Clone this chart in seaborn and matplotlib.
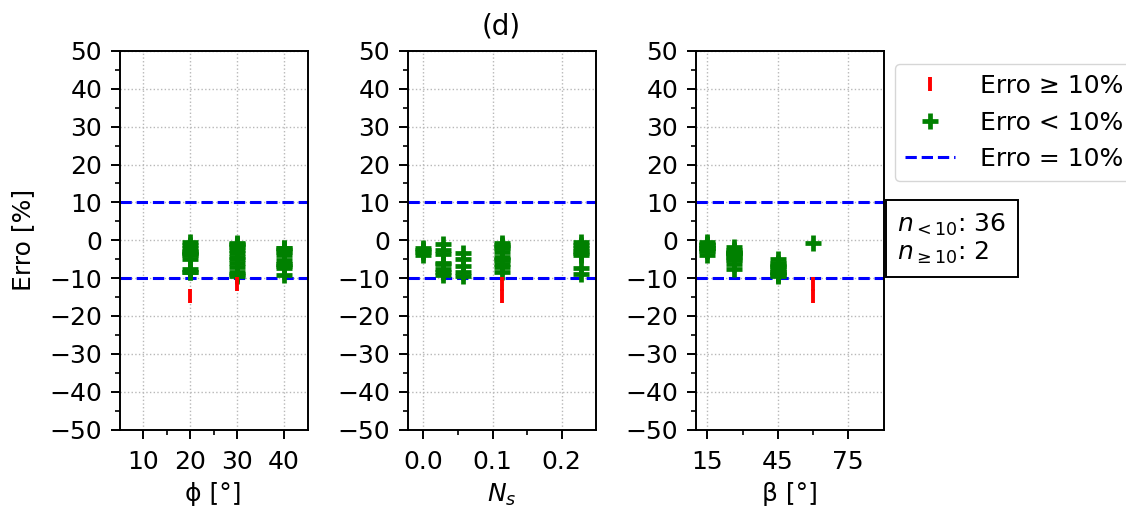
import numpy as np
import pandas as pd
import matplotlib
matplotlib.use("Agg")
import matplotlib.pyplot as plt
import seaborn as sns
from matplotlib.lines import Line2D
from matplotlib.ticker import MultipleLocator, FixedLocator

# ---- data (one entry per case) ----
phi = [20, 30, 40, 20,
       30, 40, 20, 30, 40, 20, 30, 40,
       20, 30, 40, 20, 30,
       30, 20, 40, 30, 20, 40, 30, 20, 40, 30, 20,
       20, 30, 40, 20, 30, 40, 40, 30,
       20, 30]
ns = [0.0, 0.0, 0.0, 0.0,
      0.0285, 0.0285, 0.0285, 0.0285, 0.0285, 0.0285, 0.0285, 0.0285,
      0.057, 0.057, 0.057, 0.057, 0.057,
      0.114, 0.114, 0.114, 0.114, 0.114, 0.114, 0.114, 0.114, 0.114, 0.114, 0.114,
      0.228, 0.228, 0.228, 0.228, 0.228, 0.228, 0.228, 0.228,
      0.114, 0.114]
beta = [15, 15, 26.57, 26.57,
        15, 26.57, 26.57, 45, 26.57, 26.57, 45, 45,
        26.57, 45, 45, 45, 45,
        60, 15, 15, 26.57, 26.57, 26.57, 26.57, 26.57, 45, 45, 45,
        15, 15, 15, 15, 26.57, 15, 45, 45,
        60, 60]
erro = [-2.0, -2.6, -3.2, -4.0,
        -1.0, -2.5, -3.7, -6.0, -6.3, -7.5, -8.5, -9.2,
        -3.3, -5.0, -6.8, -8.5, -9.5,
        -0.8, -1.2, -2.0, -1.8, -3.2, -5.2, -4.5, -5.0, -6.3, -7.0, -8.5,
        -0.5, -1.2, -2.0, -2.8, -3.5, -4.0, -7.2, -8.8,
        -14.6, -11.6]

x_cols = ["phi", "Ns", "beta"]
x_labels = ["ϕ [°]", "$N_s$", "β [°]"]
x_lims = [(5, 45), (-0.023, 0.249), (10, 90)]
x_major = [[10, 20, 30, 40], [0.0, 0.1, 0.2], [15, 45, 75]]
x_minor = [[15, 25], [0.05, 0.15], [30, 60]]
legend_labels = ["Erro ≥ 10%", "Erro < 10%", "Erro = 10%"]
limite = 10

df = pd.DataFrame({"phi": phi, "Ns": ns, "beta": beta, "erro": erro})
ok = df[df["erro"].abs() < limite]
bad = df[df["erro"].abs() >= limite]
n_ok, n_bad = len(ok), len(bad)

FS = 18
fig = plt.figure(figsize=(11.26, 5.07), dpi=100)
W, H = 1126, 507
lefts = [119.5, 407.5, 695.5]
axw = 188
bottom, top = 429.5, 51

axes = []
for i, left in enumerate(lefts):
    ax = fig.add_axes([left / W, 1 - bottom / H, axw / W, (bottom - top) / H])
    axes.append(ax)
    col = x_cols[i]
    ax.axhline(limite, color="blue", ls="--", lw=2.2, zorder=2)
    ax.axhline(-limite, color="blue", ls="--", lw=2.2, zorder=2)
    sns.scatterplot(data=ok, x=col, y="erro", marker="+", color="green",
                    s=140, linewidth=3.4, ax=ax, legend=False, zorder=3)
    sns.scatterplot(data=bad, x=col, y="erro", marker="|", color="red",
                    s=95, linewidth=2.8, ax=ax, legend=False, zorder=3)
    ax.set_xlim(*x_lims[i])
    ax.set_ylim(-50, 50)
    ax.xaxis.set_major_locator(FixedLocator(x_major[i]))
    ax.xaxis.set_minor_locator(FixedLocator(x_minor[i]))
    ax.yaxis.set_major_locator(MultipleLocator(10))
    ax.yaxis.set_minor_locator(MultipleLocator(5))
    if i == 1:
        ax.set_xticklabels(["0.0", "0.1", "0.2"])
    ax.grid(True, which="major", ls=":", color="0.72", lw=1)
    ax.tick_params(which="major", length=6.5, width=1.4, pad=6, labelsize=FS)
    ax.tick_params(axis="x", which="major", pad=8)
    ax.tick_params(which="minor", length=3.3, width=1.2)
    for sp in ax.spines.values():
        sp.set_linewidth(1.4)
    ax.set_xlabel(x_labels[i], fontsize=FS, labelpad=6)
    if i == 0:
        ax.set_ylabel("Erro [%]", fontsize=FS, labelpad=10)
    else:
        ax.set_ylabel("")

axes[1].set_title("(d)", fontsize=20, pad=12)

handles = [
    Line2D([], [], marker="|", color="red", ls="none", markersize=10, mew=2.8),
    Line2D([], [], marker="+", color="green", ls="none", markersize=11.5, mew=3.4),
    Line2D([], [], color="blue", ls="--", lw=2.2),
]
fig.legend(handles, legend_labels, loc="upper left",
           bbox_to_anchor=(895 / W, 1 - 64 / H), borderaxespad=0,
           fontsize=FS, frameon=True, handletextpad=1.0, handlelength=2.0)

fig.text(897.5 / W, 1 - 211.5 / H,
         f"$n_{{<10}}$: {n_ok}\n$n_{{\\geq10}}$: {n_bad}",
         fontsize=FS, va="top", ha="left", linespacing=1.1,
         bbox=dict(boxstyle="square,pad=0.45", fc="white", ec="black", lw=1.4))

fig.savefig("out.png", dpi=100)
